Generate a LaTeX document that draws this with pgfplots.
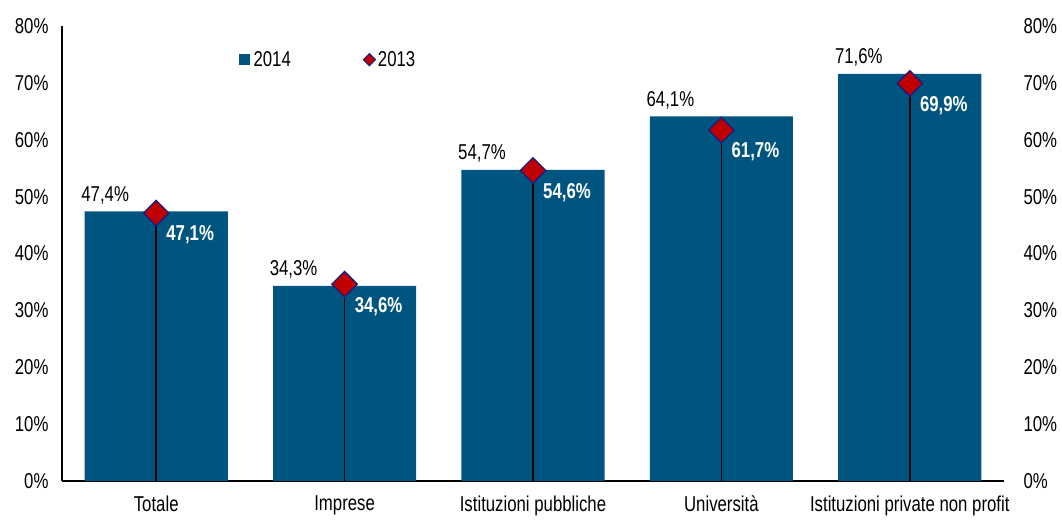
\documentclass[border=0pt]{standalone}
\usepackage{pgfplots}
\pgfplotsset{compat=1.18}
\usepackage{fontspec}
\setmainfont{Liberation Sans}[FakeStretch=0.78]
\definecolor{cbar}{HTML}{005580}
\definecolor{cred}{HTML}{C00000}
\definecolor{cnavy}{HTML}{1A1A80}
\begin{document}
\begin{tikzpicture}[font=\fontsize{21.5}{25}\selectfont]
\path[use as bounding box] (0,0) rectangle (1062pt,521pt);
\begin{axis}[
 at={(62pt,40pt)}, anchor=south west, scale only axis, width=942pt, height=455pt,
 xmin=-0.5, xmax=4.5, ymin=0, ymax=80,
 axis x line*=bottom, axis y line*=left,
 axis line style={black, line width=1.5pt},
 xtick={0,1,2,3,4},
 xticklabels={Totale,Imprese,Istituzioni pubbliche,Università,Istituzioni private non profit},
 ytick={0,10,...,80},
 yticklabels={0\%,10\%,20\%,30\%,40\%,50\%,60\%,70\%,80\%},
 major tick length=0pt,
 xticklabel style={yshift=-11pt},
 yticklabel style={xshift=-10pt},
 legend style={at={(0.184,0.926)}, anchor=west, draw=none, fill=none, legend columns=2,
   /tikz/every even column/.append style={column sep=70pt}},
 clip=false,
]
\addplot[ybar, bar width=0.76, fill=cbar, draw=none,
  point meta=explicit symbolic, nodes near coords,
  every node near coord/.append style={anchor=base, xshift=-51pt, yshift=10pt, text=black},
  legend image code/.code={\fill[cbar] (0pt,-5.5pt) rectangle (11pt,5.5pt); \path (0pt,0pt) -- (13pt,0pt);}]
 coordinates {(0,47.4) [47,4\%] (1,34.3) [34,3\%] (2,54.7) [54,7\%] (3,64.1) [64,1\%] (4,71.6) [71,6\%]};
\addlegendentry{2014}
\addplot[ycomb, black, line width=1.5pt, forget plot]
 coordinates {(0,47.1) (1,34.6) (2,54.6) (3,61.7) (4,69.9)};
\addplot[only marks, mark=square*, mark size=9pt,
  mark options={rotate=45, fill=cred, draw=cnavy, line width=1.3pt},
  point meta=explicit symbolic, nodes near coords,
  every node near coord/.append style={anchor=center, xshift=34pt, yshift=-22pt, text=white, font=\fontsize{21.5}{25}\selectfont\bfseries},
  legend image code/.code={\draw[fill=cred, draw=cnavy, line width=1.1pt] (0pt,0pt) -- (6pt,6pt) -- (12pt,0pt) -- (6pt,-6pt) -- cycle;}]
 coordinates {(0,47.1) [47,1\%] (1,34.6) [34,6\%] (2,54.6) [54,6\%] (3,61.7) [61,7\%] (4,69.9) [69,9\%]};
\addlegendentry{2013}
\end{axis}
\begin{axis}[
 at={(62pt,40pt)}, anchor=south west, scale only axis, width=942pt, height=455pt,
 xmin=-0.5, xmax=4.5, ymin=0, ymax=80,
 axis x line=none, axis y line*=right,
 y axis line style={draw=none},
 ytick={0,10,...,80},
 yticklabels={0\%,10\%,20\%,30\%,40\%,50\%,60\%,70\%,80\%},
 major tick length=0pt,
 yticklabel style={xshift=16pt},
]
\addplot[draw=none] coordinates {(0,0)};
\end{axis}
\end{tikzpicture}
\end{document}
